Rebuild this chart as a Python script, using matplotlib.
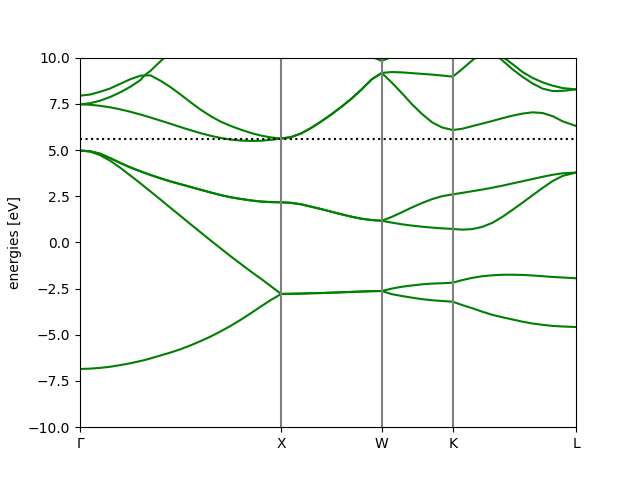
import matplotlib
matplotlib.use("Agg")
import matplotlib.pyplot as plt

# k-path positions (units of 2*pi/a), G-X-W-K-L
kpts = [0.0, 0.05, 0.1, 0.15, 0.2, 0.25, 0.3, 0.32, 0.35, 0.4, 0.45, 0.5,
        0.55, 0.6, 0.65, 0.7, 0.75, 0.8, 0.85, 0.9, 0.95, 1.0,
        1.05, 1.1, 1.15, 1.2, 1.25, 1.3, 1.35, 1.4, 1.45, 1.5,
        1.55, 1.6, 1.65, 1.7, 1.75, 1.8, 1.8536,
        1.9, 1.95, 2.0, 2.05, 2.1, 2.15, 2.2, 2.25, 2.3, 2.35, 2.4, 2.4659]

special_k = [0.0, 1.0, 1.5, 1.8536, 2.4659]
special_labels = ["Γ", "X", "W", "K", "L"]

efermi = 5.62

# band energies in eV (one line per path segment)
band1 = [-6.85, -6.83, -6.79, -6.73, -6.64, -6.54, -6.42, -6.37, -6.28, -6.12, -5.96, -5.78,
         -5.57, -5.34, -5.09, -4.81, -4.51, -4.18, -3.83, -3.46, -3.11, -2.79,
         -2.78, -2.77, -2.75, -2.74, -2.72, -2.70, -2.68, -2.66, -2.64, -2.63,
         -2.8, -2.9, -2.99, -3.07, -3.13, -3.17, -3.21,
         -3.39, -3.56, -3.75, -3.92, -4.05, -4.17, -4.29, -4.39, -4.46, -4.52, -4.55, -4.58]
band2 = [4.97, 4.92, 4.72, 4.42, 4.04, 3.62, 3.2, 3.02, 2.76, 2.32, 1.87, 1.43,
         0.98, 0.54, 0.1, -0.33, -0.76, -1.17, -1.58, -1.97, -2.38, -2.79,
         -2.78, -2.77, -2.75, -2.74, -2.72, -2.70, -2.68, -2.66, -2.64, -2.63,
         -2.5, -2.4, -2.33, -2.27, -2.23, -2.21, -2.18,
         -2.04, -1.92, -1.83, -1.78, -1.75, -1.75, -1.76, -1.79, -1.83, -1.87, -1.9, -1.94]
band3 = [4.97, 4.93, 4.8, 4.56, 4.3, 4.06, 3.85, 3.77, 3.65, 3.47, 3.3, 3.15,
         3.0, 2.85, 2.7, 2.56, 2.44, 2.35, 2.27, 2.21, 2.18, 2.17,
         2.14, 2.06, 1.93, 1.8, 1.66, 1.52, 1.39, 1.28, 1.21, 1.17,
         1.07, 0.98, 0.91, 0.85, 0.8, 0.76, 0.73,
         0.69, 0.72, 0.84, 1.06, 1.38, 1.76, 2.15, 2.55, 2.95, 3.32, 3.6, 3.78]
band4 = [4.97, 4.93, 4.8, 4.56, 4.3, 4.06, 3.85, 3.77, 3.65, 3.47, 3.3, 3.15,
         3.0, 2.85, 2.7, 2.56, 2.44, 2.35, 2.27, 2.21, 2.18, 2.17,
         2.14, 2.06, 1.93, 1.8, 1.66, 1.52, 1.39, 1.28, 1.21, 1.17,
         1.38, 1.63, 1.89, 2.13, 2.34, 2.5, 2.6,
         2.68, 2.77, 2.86, 2.96, 3.07, 3.19, 3.31, 3.43, 3.55, 3.66, 3.74, 3.78]
band5 = [7.47, 7.45, 7.39, 7.31, 7.2, 7.07, 6.92, 6.86, 6.76, 6.59, 6.42, 6.24,
         6.07, 5.91, 5.77, 5.65, 5.56, 5.51, 5.49, 5.5, 5.55, 5.62,
         5.7, 5.9, 6.2, 6.55, 6.93, 7.34, 7.78, 8.28, 8.82, 9.17,
         8.65, 8.08, 7.48, 6.95, 6.5, 6.22, 6.08,
         6.15, 6.29, 6.43, 6.57, 6.72, 6.86, 6.97, 7.04, 7.0, 6.83, 6.55, 6.3]
band6 = [7.47, 7.53, 7.67, 7.87, 8.12, 8.42, 8.78, 9.03, 9.04, 8.75, 8.4, 8.0,
         7.58, 7.18, 6.83, 6.53, 6.3, 6.1, 5.92, 5.78, 5.68, 5.62,
         5.7, 5.9, 6.2, 6.55, 6.93, 7.34, 7.78, 8.28, 8.82, 9.17,
         9.22, 9.2, 9.16, 9.12, 9.08, 9.03, 8.97,
         9.38, 9.85, 10.25, 10.3, 9.85, 9.37, 8.96, 8.6, 8.32, 8.19, 8.2, 8.28]
band7 = [7.94, 8.0, 8.15, 8.33, 8.58, 8.83, 9.02, 9.03, 9.28, 9.8, 10.3, 10.8,
         11.2, 11.6, 11.9, 12.1, 12.2, 12.3, 12.3, 12.3, 12.3, 12.3,
         12.2, 12.0, 11.7, 11.4, 11.1, 10.8, 10.5, 10.25, 10.04, 9.82,
         10.04, 10.25, 10.45, 10.65, 10.8, 10.95, 11.0,
         11.0, 10.95, 10.85, 10.7, 10.05, 9.65, 9.22, 8.9, 8.66, 8.48, 8.35, 8.28]

bands = [band1, band2, band3, band4, band5, band6, band7]

fig, ax = plt.subplots(figsize=(6.4, 4.8), dpi=100)

for b in bands:
    ax.plot(kpts, b, color="g")

ax.set_xticks(special_k)
ax.set_xticklabels(special_labels)
ax.set_ylabel("energies [eV]")
ax.axhline(efermi, color="k", ls=":")
ax.axis(xmin=0, xmax=special_k[-1], ymin=-10, ymax=10)
for x in special_k[1:-1]:
    ax.axvline(x, color="0.5")

fig.savefig("out.png")
